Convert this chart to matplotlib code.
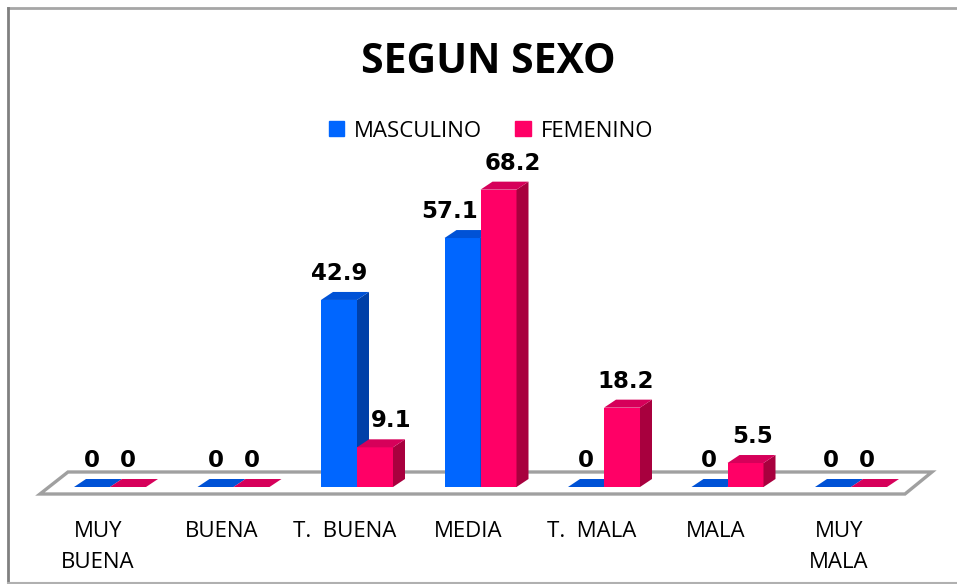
import matplotlib
matplotlib.use("Agg")
import matplotlib.pyplot as plt
from matplotlib.patches import Polygon, Rectangle, Patch
from matplotlib.lines import Line2D

# ---- data ----
categorias = ["MUY\nBUENA", "BUENA", "T.  BUENA", "MEDIA", "T.  MALA", "MALA", "MUY\nMALA"]
masculino = [0, 0, 42.9, 57.1, 0, 0, 0]
femenino = [0, 0, 9.1, 68.2, 18.2, 5.5, 0]
series_names = ["MASCULINO", "FEMENINO"]
titulo = "SEGUN SEXO"

# nudges (px) for value labels that Excel moved sideways
nudge_m = [0, 0, 0, -13, 0, -1, -2]
nudge_f = [0, 0, 16, 14, 4, 7, -2]

# ---- layout (pixel based) ----
W, H = 957, 584
X0, STEP = 110.0, 123.5      # px of category 0 centre, px per category
BASE, SCALE = 487.0, 4.36    # px of value 0, px per unit
PX = 1.0 / STEP              # one pixel in x data units
PY = 1.0 / SCALE             # one pixel in y data units

bw = 36 * PX                 # bar width
ddx, ddy = 12 * PX, 8 * PY   # 3d depth offset

colors = {
    "m": dict(front="#0066ff", side="#0040a8", top="#0052d6"),
    "f": dict(front="#ff0066", side="#a8003e", top="#d6005a"),
}

fig = plt.figure(figsize=(W / 100, H / 100), dpi=100)
ax = fig.add_axes([0, 0, 1, 1])
ax.set_xlim(-X0 / STEP, (W - X0) / STEP)
ax.set_ylim(-(H - BASE) / SCALE, BASE / SCALE)
ax.axis("off")

# floor
n = len(categorias)
fl, fr = -0.567, n - 1 + 0.437
fy, by = -7 * PY, 15 * PY
floor = Polygon([(fl, fy), (fr, fy), (fr + 27 * PX, by), (fl + 28 * PX, by)],
                closed=True, facecolor="white", edgecolor="#a0a0a0", lw=2.4, zorder=1)
ax.add_patch(floor)


def bar3d(x0, v, c, z):
    x1 = x0 + bw
    if v > 0:
        ax.add_patch(Rectangle((x0, 0), bw, v, facecolor=c["front"], lw=0, zorder=z))
        ax.add_patch(Polygon([(x1, 0), (x1 + ddx, ddy), (x1 + ddx, v + ddy), (x1, v)],
                             facecolor=c["side"], lw=0, zorder=z))
    ax.add_patch(Polygon([(x0, v), (x1, v), (x1 + ddx, v + ddy), (x0 + ddx, v + ddy)],
                         facecolor=c["top"], lw=0, zorder=z))


lab_font = dict(family="DejaVu Sans", weight="bold", size=16.5)
for i in range(n):
    bar3d(i - bw, masculino[i], colors["m"], 2 + 2 * i)
    bar3d(i, femenino[i], colors["f"], 3 + 2 * i)
    for v, x0, nd in [(masculino[i], i - bw, nudge_m[i]), (femenino[i], i, nudge_f[i])]:
        txt = "0" if v == 0 else f"{v:g}"
        ax.text(x0 + bw / 2 + nd * PX, v + 20 * PY, txt, ha="center", va="baseline",
                fontdict=lab_font, zorder=30)
    for k, line in enumerate(categorias[i].split("\n")):
        ax.text(i - 12 * PX, -(537 + 31 * k - BASE) * PY, line, ha="center", va="baseline",
                family="Open Sans", size=16, zorder=30)

# title
fig.text(488 / W, 1 - 73 / H, titulo, ha="center", va="baseline",
         family="Open Sans", weight="bold", size=29.5)

# legend
handles = [Patch(color=colors["m"]["front"]), Patch(color=colors["f"]["front"])]
fig.legend(handles, series_names, loc="center", bbox_to_anchor=(491 / W, 1 - 131 / H),
           ncol=2, frameon=False, prop=dict(family="Open Sans", size=16),
           handlelength=0.68, handleheight=0.68, handletextpad=0.45,
           columnspacing=1.5, borderpad=0)

# chart border
fig.add_artist(Line2D([8 / W, 1], [1 - 8 / H, 1 - 8 / H], color="#a6a6a6", lw=2))
fig.add_artist(Line2D([8 / W, 8 / W], [1 - 8 / H, 1 - 583 / H], color="#808080", lw=2))
fig.add_artist(Line2D([8 / W, 1], [1 - 583 / H, 1 - 583 / H], color="#b0b0b0", lw=1.5))

fig.savefig("out.png", dpi=100)
